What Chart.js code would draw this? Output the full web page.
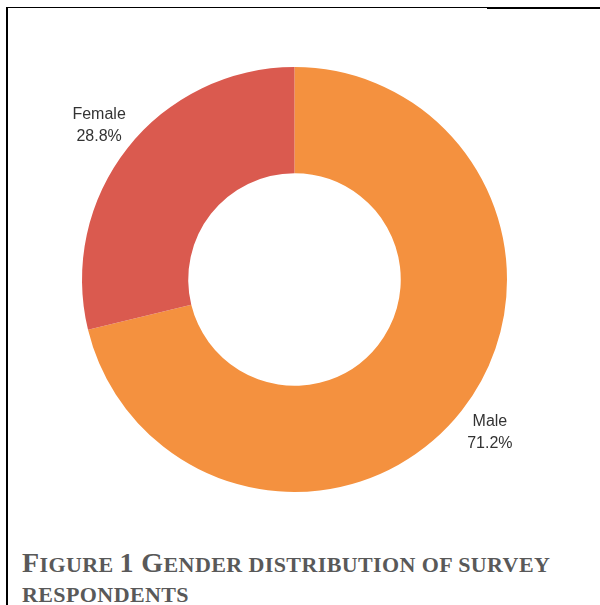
<!DOCTYPE html>
<html>
<head>
<meta charset="utf-8">
<script src="https://cdn.jsdelivr.net/npm/chart.js@4"></script>
<style>
  html, body { margin: 0; padding: 0; background: #fff; }
  #page { position: relative; width: 600px; height: 605px; overflow: hidden; }
  .rule { position: absolute; background: #000; }
  #chartBox { position: absolute; left: 0; top: 0; width: 600px; height: 530px; }
  .cap {
    position: absolute; left: 22px;
    font-family: "Liberation Serif", "Times New Roman", serif;
    font-weight: bold; font-size: 22px; line-height: 30px;
    letter-spacing: 0.4px;
    color: #595959; white-space: nowrap;
  }
  .cap .big { font-size: 28px; line-height: 30px; }
</style>
</head>
<body>
<div id="page">
  <div class="rule" style="left:6px; top:7px; width:481px; height:1px;"></div>
  <div class="rule" style="left:487px; top:7px; width:113px; height:2px;"></div>
  <div class="rule" style="left:6px; top:7px; width:2px; height:598px;"></div>
  <div id="chartBox"><canvas id="genderChart"></canvas></div>
  <div class="cap" style="top:548px;"><span class="big">F</span>IGURE <span class="big">1 G</span>ENDER DISTRIBUTION OF SURVEY</div>
  <div class="cap" style="top:580px;">RESPONDENTS</div>
</div>
<script>
// Respuestas por género (porcentaje)
var labels = ['Male', 'Female'];
var shares = [71.2, 28.8];
var colors = ['#f4913f', '#da5a4f'];

// Etiquetas fuera del anillo: nombre y porcentaje
var outsideLabels = {
  id: 'outsideLabels',
  afterDraw: function(chart) {
    var ctx = chart.ctx;
    var meta = chart.getDatasetMeta(0);
    ctx.save();
    ctx.font = '16px "Liberation Sans", Arial, sans-serif';
    ctx.fillStyle = '#333';
    ctx.textAlign = 'center';
    ctx.textBaseline = 'middle';
    meta.data.forEach(function(arc, i) {
      var p = arc.getProps(['x', 'y', 'startAngle', 'endAngle', 'outerRadius'], true);
      var mid = (p.startAngle + p.endAngle) / 2;
      var r = p.outerRadius + 36;
      var x = p.x + Math.cos(mid) * r;
      var y = p.y + Math.sin(mid) * r;
      ctx.fillText(chart.data.labels[i], x, y - 11);
      ctx.fillText(shares[i].toFixed(1) + '%', x, y + 11);
    });
    ctx.restore();
  }
};

var ctx = document.getElementById('genderChart').getContext('2d');
var genderChart = new Chart(ctx, {
  type: 'doughnut',
  data: {
    labels: labels,
    datasets: [{
      data: shares,
      backgroundColor: colors,
      borderWidth: 0,
      hoverOffset: 0
    }]
  },
  options: {
    responsive: true,
    maintainAspectRatio: false,
    animation: false,
    cutout: '50%',
    layout: { padding: { left: 82, top: 67, right: 93, bottom: 38 } },
    plugins: {
      legend: { display: false },
      tooltip: { enabled: false }
    }
  },
  plugins: [outsideLabels]
});
</script>
</body>
</html>
